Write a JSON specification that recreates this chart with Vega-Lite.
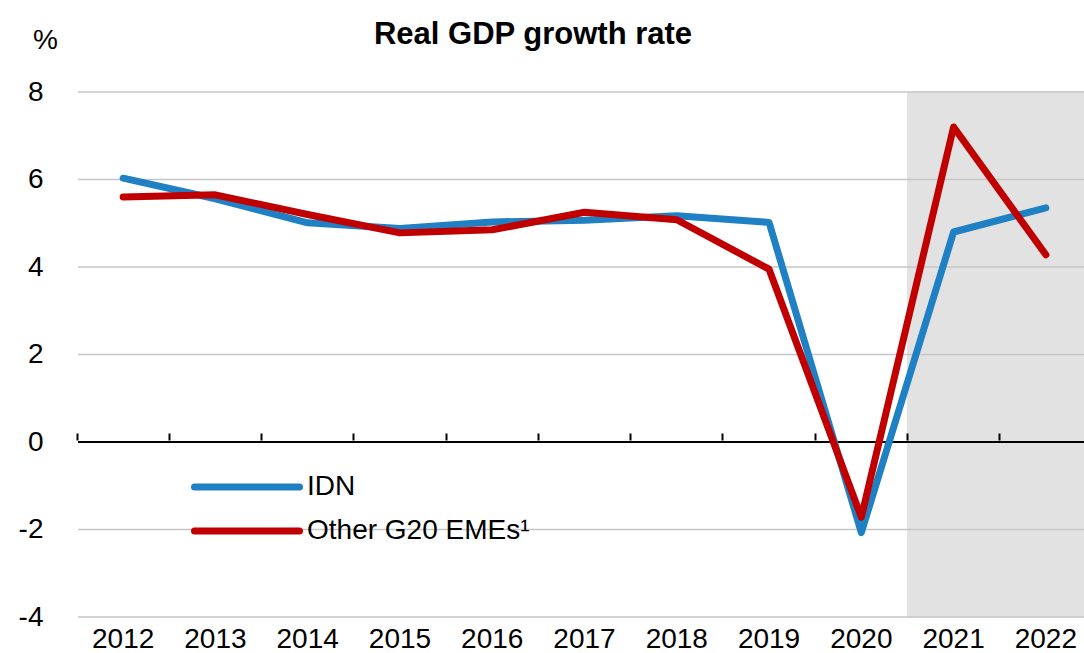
{
  "$schema": "https://vega.github.io/schema/vega-lite/v6.json",
  "autosize": "none",
  "width": 1006,
  "height": 525,
  "padding": {"left": 78, "top": 92, "right": 0, "bottom": 36},
  "background": "white",
  "config": {
    "font": "Liberation Sans",
    "view": {"stroke": null},
    "axis": {"labelFont": "Liberation Sans", "labelFontSize": 28, "labelColor": "#000000"}
  },
  "title": {
    "text": "Real GDP growth rate",
    "font": "Liberation Sans",
    "fontSize": 31,
    "fontWeight": "bold",
    "color": "#000000",
    "anchor": "middle",
    "frame": "group",
    "baseline": "alphabetic",
    "dx": -48,
    "offset": -49
  },
  "datasets": {
    "series": [
      {"year": "2012", "series": "IDN", "value": 6.03},
      {"year": "2013", "series": "IDN", "value": 5.56},
      {"year": "2014", "series": "IDN", "value": 5.01},
      {"year": "2015", "series": "IDN", "value": 4.88},
      {"year": "2016", "series": "IDN", "value": 5.03},
      {"year": "2017", "series": "IDN", "value": 5.07},
      {"year": "2018", "series": "IDN", "value": 5.17},
      {"year": "2019", "series": "IDN", "value": 5.02},
      {"year": "2020", "series": "IDN", "value": -2.07},
      {"year": "2021", "series": "IDN", "value": 4.8},
      {"year": "2022", "series": "IDN", "value": 5.35},
      {"year": "2012", "series": "Other G20 EMEs¹", "value": 5.6},
      {"year": "2013", "series": "Other G20 EMEs¹", "value": 5.65},
      {"year": "2014", "series": "Other G20 EMEs¹", "value": 5.2},
      {"year": "2015", "series": "Other G20 EMEs¹", "value": 4.78},
      {"year": "2016", "series": "Other G20 EMEs¹", "value": 4.85},
      {"year": "2017", "series": "Other G20 EMEs¹", "value": 5.25},
      {"year": "2018", "series": "Other G20 EMEs¹", "value": 5.08},
      {"year": "2019", "series": "Other G20 EMEs¹", "value": 3.95},
      {"year": "2020", "series": "Other G20 EMEs¹", "value": -1.72},
      {"year": "2021", "series": "Other G20 EMEs¹", "value": 7.2},
      {"year": "2022", "series": "Other G20 EMEs¹", "value": 4.28}
    ],
    "shade": [{"year": "2021"}, {"year": "2022"}],
    "grid": [{"v": -4}, {"v": -2}, {"v": 2}, {"v": 4}, {"v": 6}, {"v": 8}],
    "zero": [{"v": 0}]
  },
  "layer": [
    {
      "data": {"name": "shade"},
      "mark": {"type": "rect", "color": "#e2e2e2", "stroke": "#e2e2e2", "strokeWidth": 1},
      "encoding": {
        "x": {
          "field": "year", "type": "ordinal",
          "scale": {"type": "band", "paddingInner": 0, "paddingOuter": 0, "range": [-1, 1014],
                    "domain": ["2012","2013","2014","2015","2016","2017","2018","2019","2020","2021","2022"]},
          "axis": {"domain": false, "ticks": false, "labelAngle": 0, "labelPadding": 8, "title": null}
        },
        "y": {"datum": 8, "type": "quantitative",
              "scale": {"domain": [-4, 8], "nice": false},
              "axis": {"values": [-4, -2, 0, 2, 4, 6, 8], "domain": false, "ticks": false, "grid": false,
                       "labelPadding": 35,
                       "labelExpr": "datum.value < 0 ? '-' + abs(datum.value) : '' + datum.value",
                       "title": "%", "titleAngle": 0, "titleX": -33, "titleY": -52,
                       "titleAlign": "center", "titleBaseline": "middle",
                       "titleFont": "Liberation Sans", "titleFontSize": 28, "titleFontWeight": "normal",
                       "titleColor": "#000000"}},
        "y2": {"datum": -4}
      }
    },
    {
      "data": {"name": "grid"},
      "mark": {"type": "rule", "color": "#c6c6c6", "strokeWidth": 1.5},
      "encoding": {"y": {"field": "v", "type": "quantitative"}}
    },
    {
      "data": {"name": "zero"},
      "mark": {"type": "rule", "color": "#000000", "strokeWidth": 2},
      "encoding": {"y": {"field": "v", "type": "quantitative"}}
    },
    {
      "data": {"name": "series"},
      "mark": {"type": "line", "strokeWidth": 7, "strokeCap": "round", "strokeJoin": "round"},
      "encoding": {
        "x": {"field": "year", "type": "ordinal",
              "axis": {"orient": "top", "offset": -348, "labels": false, "grid": false,
                       "domain": false, "zindex": 1,
                       "ticks": true, "tickColor": "#000000", "tickWidth": 2, "tickSize": 7,
                       "bandPosition": 0, "title": null}},
        "y": {"field": "value", "type": "quantitative"},
        "color": {
          "field": "series", "type": "nominal",
          "scale": {"domain": ["IDN", "Other G20 EMEs¹"], "range": ["#1f80c3", "#c00000"]},
          "legend": {
            "title": null, "orient": "none", "legendX": 139, "legendY": 365,
            "symbolType": "M-2,0H2", "symbolSize": 2756, "symbolStrokeWidth": 7,
            "labelFont": "Liberation Sans", "labelFontSize": 28, "labelColor": "#000000",
            "labelOffset": 30, "labelLimit": 600, "rowPadding": -2,
            "encode": {"symbols": {"update": {"strokeCap": {"value": "round"}}}}
          }
        }
      }
    }
  ],
  "resolve": {"axis": {"x": "independent"}}
}
